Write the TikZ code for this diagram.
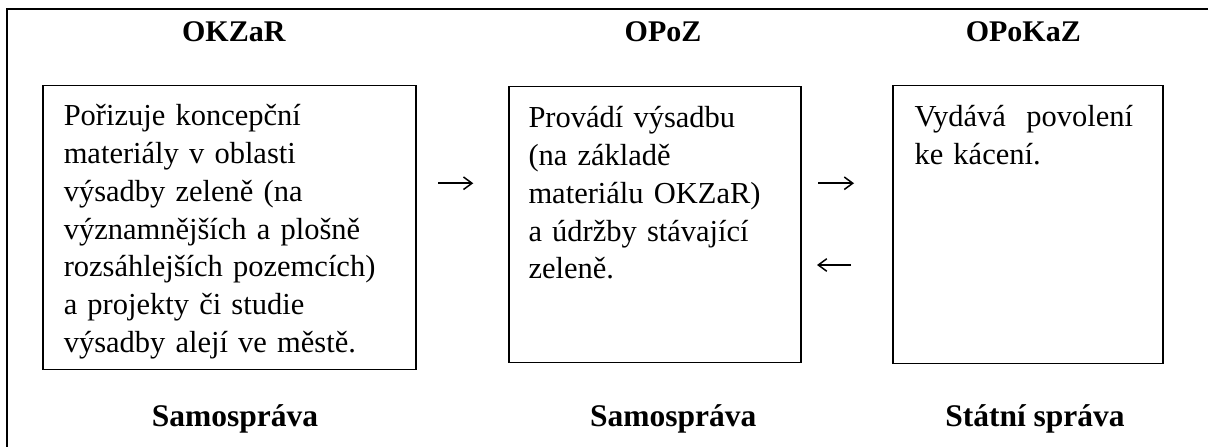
\documentclass[tikz,border=0pt]{standalone}
\usepackage{fontspec}
\setmainfont{Liberation Serif}
\usetikzlibrary{positioning, arrows.meta}

\begin{document}
\begin{tikzpicture}[x=1pt, y=-1pt,
    box/.style={draw, line width=0.5pt, inner sep=0pt},
    body/.style={anchor=base west, inner sep=0pt, align=left, font=\fontsize{12.2}{15.1}\selectfont},
    head/.style={anchor=base, inner sep=0pt, font=\fontsize{12}{14}\selectfont\bfseries},
    foot/.style={anchor=base, inner sep=0pt, font=\fontsize{12.6}{15}\selectfont\bfseries},
    flow/.style={line width=0.6pt, -{Straight Barb[length=3.4pt, width=5pt]}}]
    \useasboundingbox (0,0) rectangle (483.2,178.8);

    % Frame
    \draw[line width=0.45pt] (490,3.6) -| (2.8,185);

    % Boxes
    \node[box, minimum width=149.2pt, minimum height=113.3pt] (okzar) at (91.8,91.0) {};
    \node[box, minimum width=116.8pt, minimum height=110.4pt] (opoz) at (262.0,89.9) {};
    \node[box, minimum width=108pt, minimum height=111pt] (opokaz) at (411.2,89.8) {};

    % Box texts
    \node[body, text width=140pt] (okzartext) at (25.3,50.4) {Pořizuje koncepční\\ materiály v oblasti\\ výsadby zeleně (na\\ významnějších a plošně\\ rozsáhlejších pozemcích)\\ a projekty či studie\\ výsadby alejí ve městě.};
    \node[body, text width=106pt] (opoztext) at (211.2,51.1) {Provádí výsadbu\\ (na základě\\ materiálu OKZaR)\\ a údržby stávající\\ zeleně.};
    \node[body, text width=98pt] (opokaztext) at (365.6,50.7) {Vydává\ \ povolení\\ ke kácení.};

    % Headings
    \node[head] (okzarhead) at (93.5,16.7) {OKZaR};
    \node[head] (opozhead) at (265.2,16.7) {OPoZ};
    \node[head] (opokazhead) at (409.3,16.7) {OPoKaZ};

    % Footers
    \node[foot] (okzarfoot) at (94,170.4) {Samospráva};
    \node[foot] (opozfoot) at (269.3,170.4) {Samospráva};
    \node[foot] (opokazfoot) at (414,170.4) {Státní správa};

    % Arrows
    \coordinate (f1a) at (175.3,73.3);
    \coordinate (f1b) at (189.3,73.3);
    \coordinate (f2a) at (327.2,73.3);
    \coordinate (f2b) at (341.6,73.3);
    \coordinate (f3a) at (340.4,106);
    \coordinate (f3b) at (326.8,106);
    \draw[flow] (f1a) -- (f1b);
    \draw[flow] (f2a) -- (f2b);
    \draw[flow] (f3a) -- (f3b);
\end{tikzpicture}
\end{document}
